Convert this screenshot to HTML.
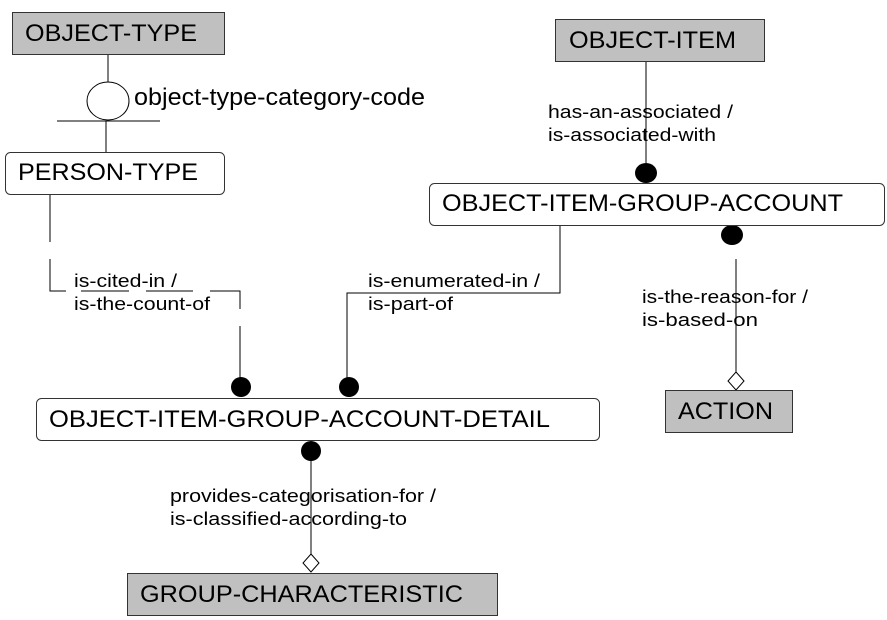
<!DOCTYPE html>
<html><head><meta charset="utf-8"><style>
html,body{margin:0;padding:0;background:#fff}
svg{display:block}
text{font-family:"Liberation Sans",Arial,sans-serif;fill:#000}
</style></head><body>
<svg width="887" height="620" viewBox="0 0 887 620" xmlns="http://www.w3.org/2000/svg">
<g stroke="#000" stroke-width="1" fill="none">
<line x1="108" y1="54" x2="108" y2="82"/>
<ellipse cx="108" cy="101" rx="21" ry="19" fill="#fff"/>
<line x1="57" y1="121" x2="160" y2="121"/>
<line x1="106" y1="121" x2="106" y2="152"/>
<line x1="50" y1="194" x2="50" y2="242"/>
<polyline points="50,259 50,291 66,291"/>
<line x1="81" y1="291" x2="129" y2="291"/>
<line x1="146" y1="291" x2="193" y2="291"/>
<polyline points="210,291 240,291 240,309"/>
<line x1="240" y1="326" x2="240" y2="378"/>
<polyline points="560,226 560,293 347,293 347,378"/>
<line x1="646" y1="62" x2="646" y2="168"/>
<line x1="736" y1="259" x2="736" y2="373"/>
<line x1="311" y1="455" x2="311" y2="555"/>
</g>
<g fill="#000">
<ellipse cx="241" cy="387" rx="10" ry="10"/>
<ellipse cx="349" cy="387" rx="10" ry="10"/>
<ellipse cx="311" cy="451" rx="10" ry="10"/>
<ellipse cx="646" cy="173" rx="11" ry="10"/>
<ellipse cx="732" cy="235" rx="11" ry="10"/>
</g>
<g stroke="#000" fill="#fff">
<polygon points="736,372 744,381 736,390 728,381"/>
<polygon points="311,554 319,563 311,572 303,563"/>
</g>
<g stroke="#333" stroke-width="1">
<rect x="12.5" y="12.5" width="212" height="42" fill="#c0c0c0"/>
<rect x="555.5" y="19.5" width="209" height="42" fill="#c0c0c0"/>
<rect x="665.5" y="390.5" width="127" height="42" fill="#c0c0c0"/>
<rect x="127.5" y="573.5" width="370" height="42" fill="#c0c0c0"/>
<rect x="5.5" y="152.5" width="219" height="42" rx="5" fill="#fff"/>
<rect x="429.5" y="183.5" width="455" height="42" rx="5" fill="#fff"/>
<rect x="36.5" y="398.5" width="563" height="42" rx="5" fill="#fff"/>
</g>
<g font-size="24">
<text x="25" y="41" textLength="172" lengthAdjust="spacingAndGlyphs">OBJECT-TYPE</text>
<text x="569" y="48" textLength="167" lengthAdjust="spacingAndGlyphs">OBJECT-ITEM</text>
<text x="678" y="419" textLength="95" lengthAdjust="spacingAndGlyphs">ACTION</text>
<text x="140" y="602" textLength="323" lengthAdjust="spacingAndGlyphs">GROUP-CHARACTERISTIC</text>
<text x="18" y="180" textLength="180" lengthAdjust="spacingAndGlyphs">PERSON-TYPE</text>
<text x="442" y="211" textLength="401" lengthAdjust="spacingAndGlyphs">OBJECT-ITEM-GROUP-ACCOUNT</text>
<text x="49" y="427" textLength="501" lengthAdjust="spacingAndGlyphs">OBJECT-ITEM-GROUP-ACCOUNT-DETAIL</text>
<text x="134" y="105" textLength="291" lengthAdjust="spacingAndGlyphs">object-type-category-code</text>
</g>
<g font-size="18">
<text x="74" y="287" textLength="103" lengthAdjust="spacingAndGlyphs">is-cited-in /</text>
<text x="74" y="310" textLength="136" lengthAdjust="spacingAndGlyphs">is-the-count-of</text>
<text x="368" y="287" textLength="172" lengthAdjust="spacingAndGlyphs">is-enumerated-in /</text>
<text x="368" y="310" textLength="85" lengthAdjust="spacingAndGlyphs">is-part-of</text>
<text x="548" y="118" textLength="185" lengthAdjust="spacingAndGlyphs">has-an-associated /</text>
<text x="548" y="141" textLength="168" lengthAdjust="spacingAndGlyphs">is-associated-with</text>
<text x="642" y="303" textLength="166" lengthAdjust="spacingAndGlyphs">is-the-reason-for /</text>
<text x="642" y="326" textLength="116" lengthAdjust="spacingAndGlyphs">is-based-on</text>
<text x="170" y="502" textLength="266" lengthAdjust="spacingAndGlyphs">provides-categorisation-for /</text>
<text x="170" y="525" textLength="237" lengthAdjust="spacingAndGlyphs">is-classified-according-to</text>
</g>
</svg>
</body></html>
